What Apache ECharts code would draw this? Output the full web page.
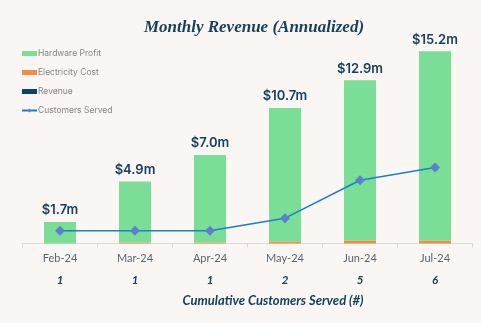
<!DOCTYPE html>
<html>
<head>
<meta charset="utf-8">
<script src="https://cdn.jsdelivr.net/npm/echarts@6/dist/echarts.min.js"></script>
<style>
  html, body { margin: 0; padding: 0; background: #FAF6F3; }
  #chart { width: 481px; height: 323px; }
</style>
</head>
<body>
<div id="chart"></div>
<script>
// Monthly figures, annualized revenue in $m
const months = ['Feb-24', 'Mar-24', 'Apr-24', 'May-24', 'Jun-24', 'Jul-24'];
const revenue = [1.7, 4.9, 7.0, 10.7, 12.9, 15.2];
const electricityCost = [0, 0.08, 0.08, 0.16, 0.24, 0.24];
const hardwareProfit = [1.7, 4.82, 6.92, 10.54, 12.66, 14.96];
const customersServed = [1, 1, 1, 2, 5, 6];

const NAVY = '#16405F';
const chart = echarts.init(document.getElementById('chart'), null, { renderer: 'canvas' });

chart.setOption({
  backgroundColor: '#FAF6F3',
  animation: false,
  title: [
    {
      text: 'Monthly Revenue (Annualized)',
      left: 249, top: 14, textAlign: 'center',
      textStyle: { fontFamily: 'Liberation Serif', fontStyle: 'italic', fontWeight: 'bold', fontSize: 17, color: NAVY }
    },
    {
      text: 'Cumulative Customers Served (#)',
      left: 268, top: 289, textAlign: 'center',
      textStyle: { fontFamily: 'Lato', fontStyle: 'italic', fontWeight: 'bold', fontSize: 13, color: NAVY }
    }
  ],
  legend: {
    orient: 'vertical', left: 16, top: 44, itemGap: 10,
    itemWidth: 15, itemHeight: 5,
    textStyle: { fontFamily: 'Inter', fontSize: 8.5, color: '#858585', padding: [0, 0, 0, -4] },
    data: [
      { name: 'Hardware Profit', icon: 'rect' },
      { name: 'Electricity Cost', icon: 'rect' },
      { name: 'Revenue', icon: 'rect' },
      { name: 'Customers Served' }
    ]
  },
  grid: { left: 22.5, right: 8.5, top: 41, bottom: 79.5 },
  xAxis: {
    type: 'category', data: months,
    axisLine: { lineStyle: { color: '#DDDAD8', width: 1 } },
    axisTick: { show: true, length: 4, lineStyle: { color: '#DDDAD8' } },
    axisLabel: {
      interval: 0, margin: 4,
      formatter: (v, i) => '{m|' + v + '}\n{c|' + customersServed[i] + '}',
      rich: {
        m: { fontFamily: 'Lato', fontSize: 11, color: '#5A6470', lineHeight: 22 },
        c: { fontFamily: 'Lato', fontStyle: 'italic', fontWeight: 'bold', fontSize: 11.5, color: NAVY, lineHeight: 22 }
      }
    }
  },
  yAxis: { type: 'value', min: 0, max: 16, show: false, splitLine: { show: false } },
  series: [
    {
      name: 'Electricity Cost', type: 'bar', stack: 'rev', barWidth: 32, barGap: '-100%',
      itemStyle: { color: '#F48C45' },
      data: electricityCost
    },
    {
      name: 'Hardware Profit', type: 'bar', stack: 'rev', barWidth: 32, barGap: '-100%',
      itemStyle: { color: '#7ADE97' },
      label: {
        show: true, position: 'top', distance: 5,
        formatter: p => '$' + revenue[p.dataIndex].toFixed(1) + 'm',
        fontFamily: 'Inter', fontWeight: 600, fontSize: 13, color: NAVY
      },
      data: hardwareProfit
    },
    {
      name: 'Revenue', type: 'bar', stack: 'rev', barWidth: 32, barGap: '-100%',
      itemStyle: { color: '#0E4566' },
      data: []
    },
    {
      name: 'Customers Served', type: 'line', z: 5,
      symbol: 'diamond', symbolSize: 10,
      lineStyle: { color: '#1A7ED2', width: 1.5 },
      itemStyle: { color: '#5B80CF' },
      data: customersServed
    }
  ]
});
</script>
</body>
</html>
